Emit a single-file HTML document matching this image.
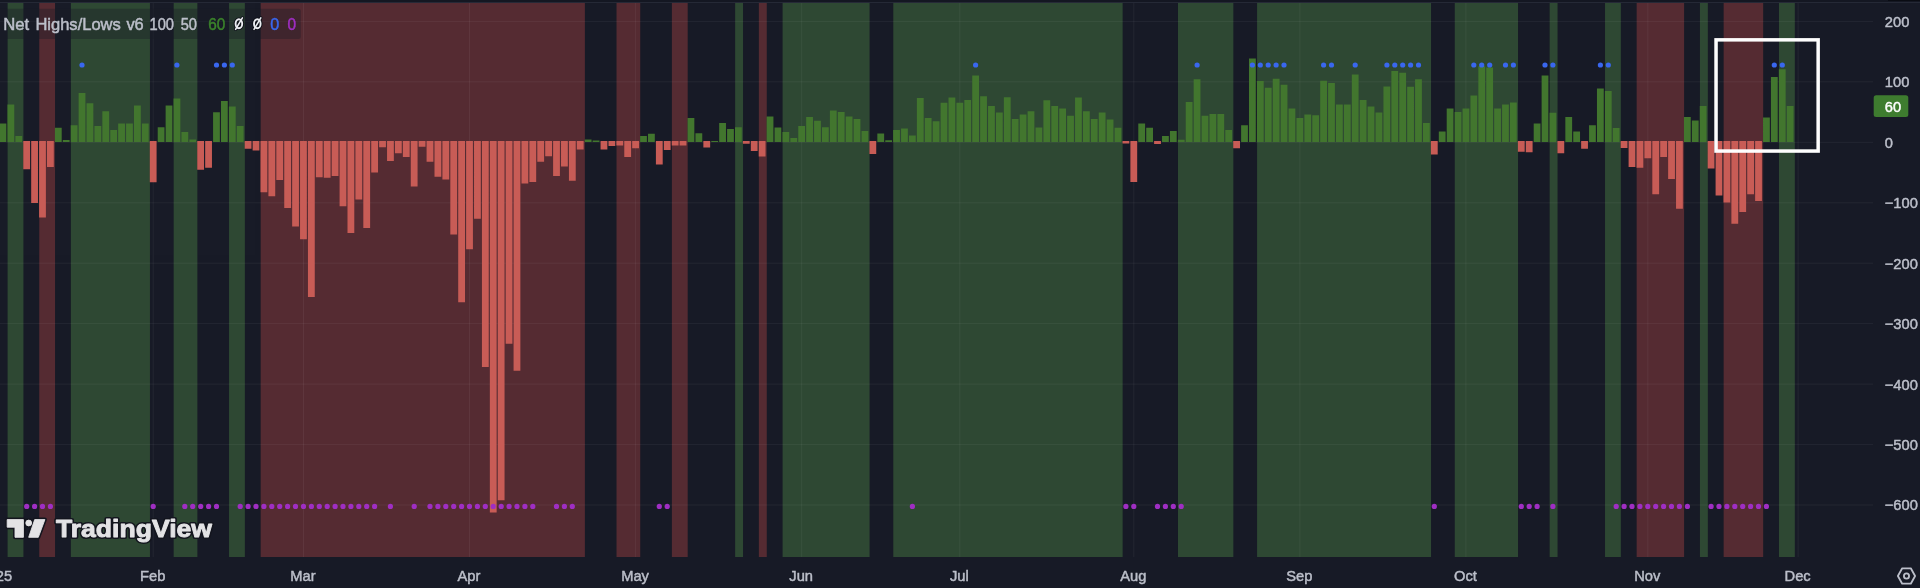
<!DOCTYPE html>
<html><head><meta charset="utf-8"><title>Net Highs/Lows</title>
<style>html,body{margin:0;padding:0;background:#181b27;overflow:hidden}svg{display:block}text{font-family:"Liberation Sans",sans-serif}svg{opacity:.999;will-change:transform}</style></head>
<body>
<svg width="1920" height="588" viewBox="0 0 1920 588">
<rect width="1920" height="588" fill="#181b27"/>
<rect x="7.60" y="2.8" width="15.82" height="554.2" fill="#2f4934"/>
<rect x="39.24" y="2.8" width="15.82" height="554.2" fill="#562c33"/>
<rect x="70.87" y="2.8" width="79.08" height="554.2" fill="#2f4934"/>
<rect x="173.67" y="2.8" width="23.72" height="554.2" fill="#2f4934"/>
<rect x="229.03" y="2.8" width="15.82" height="554.2" fill="#2f4934"/>
<rect x="260.66" y="2.8" width="324.23" height="554.2" fill="#562c33"/>
<rect x="616.52" y="2.8" width="23.72" height="554.2" fill="#562c33"/>
<rect x="671.88" y="2.8" width="15.82" height="554.2" fill="#562c33"/>
<rect x="735.14" y="2.8" width="7.91" height="554.2" fill="#2f4934"/>
<rect x="758.86" y="2.8" width="7.91" height="554.2" fill="#562c33"/>
<rect x="782.59" y="2.8" width="86.99" height="554.2" fill="#2f4934"/>
<rect x="893.30" y="2.8" width="229.33" height="554.2" fill="#2f4934"/>
<rect x="1177.99" y="2.8" width="55.36" height="554.2" fill="#2f4934"/>
<rect x="1257.07" y="2.8" width="173.98" height="554.2" fill="#2f4934"/>
<rect x="1454.77" y="2.8" width="63.26" height="554.2" fill="#2f4934"/>
<rect x="1549.66" y="2.8" width="7.91" height="554.2" fill="#2f4934"/>
<rect x="1605.02" y="2.8" width="15.82" height="554.2" fill="#2f4934"/>
<rect x="1636.65" y="2.8" width="47.45" height="554.2" fill="#562c33"/>
<rect x="1699.92" y="2.8" width="7.91" height="554.2" fill="#2f4934"/>
<rect x="1723.64" y="2.8" width="39.54" height="554.2" fill="#562c33"/>
<rect x="1779.00" y="2.8" width="15.82" height="554.2" fill="#2f4934"/>
<g stroke="rgba(255,255,255,0.055)" stroke-width="1">
<line x1="0" x2="1873" y1="21.4" y2="21.4"/>
<line x1="0" x2="1873" y1="81.8" y2="81.8"/>
<line x1="0" x2="1873" y1="142.3" y2="142.3"/>
<line x1="0" x2="1873" y1="202.8" y2="202.8"/>
<line x1="0" x2="1873" y1="263.2" y2="263.2"/>
<line x1="0" x2="1873" y1="323.6" y2="323.6"/>
<line x1="0" x2="1873" y1="384.1" y2="384.1"/>
<line x1="0" x2="1873" y1="444.6" y2="444.6"/>
<line x1="0" x2="1873" y1="505.0" y2="505.0"/>
<line x1="153.2" x2="153.2" y1="2.8" y2="557.0"/>
<line x1="303.5" x2="303.5" y1="2.8" y2="557.0"/>
<line x1="469.5" x2="469.5" y1="2.8" y2="557.0"/>
<line x1="635.6" x2="635.6" y1="2.8" y2="557.0"/>
<line x1="801.7" x2="801.7" y1="2.8" y2="557.0"/>
<line x1="959.8" x2="959.8" y1="2.8" y2="557.0"/>
<line x1="1133.8" x2="1133.8" y1="2.8" y2="557.0"/>
<line x1="1299.9" x2="1299.9" y1="2.8" y2="557.0"/>
<line x1="1465.9" x2="1465.9" y1="2.8" y2="557.0"/>
<line x1="1647.8" x2="1647.8" y1="2.8" y2="557.0"/>
<line x1="1798.1" x2="1798.1" y1="2.8" y2="557.0"/>
</g>
<path fill="#43772f" d="M-0.45 141.9h6.8v-18.5h-6.8zM7.46 141.9h6.8v-37.5h-6.8zM15.37 141.9h6.8v-6.0h-6.8zM54.91 141.9h6.8v-14.1h-6.8zM62.81 141.9h6.8v-2.0h-6.8zM70.72 141.9h6.8v-16.6h-6.8zM78.63 141.9h6.8v-49.0h-6.8zM86.54 141.9h6.8v-38.6h-6.8zM94.45 141.9h6.8v-15.8h-6.8zM102.35 141.9h6.8v-30.7h-6.8zM110.26 141.9h6.8v-12.0h-6.8zM118.17 141.9h6.8v-18.5h-6.8zM126.08 141.9h6.8v-18.5h-6.8zM133.99 141.9h6.8v-36.5h-6.8zM141.89 141.9h6.8v-18.5h-6.8zM157.71 141.9h6.8v-14.7h-6.8zM165.62 141.9h6.8v-36.5h-6.8zM173.53 141.9h6.8v-43.3h-6.8zM181.43 141.9h6.8v-10.0h-6.8zM189.34 141.9h6.8v-2.5h-6.8zM213.07 141.9h6.8v-29.7h-6.8zM220.97 141.9h6.8v-40.8h-6.8zM228.88 141.9h6.8v-35.4h-6.8zM236.79 141.9h6.8v-15.8h-6.8zM584.74 141.9h6.8v-2.5h-6.8zM592.65 141.9h6.8v-1.5h-6.8zM640.10 141.9h6.8v-6.0h-6.8zM648.01 141.9h6.8v-8.2h-6.8zM687.55 141.9h6.8v-24.0h-6.8zM695.45 141.9h6.8v-8.7h-6.8zM711.27 141.9h6.8v-1.0h-6.8zM719.18 141.9h6.8v-19.0h-6.8zM727.09 141.9h6.8v-13.0h-6.8zM734.99 141.9h6.8v-14.7h-6.8zM766.63 141.9h6.8v-25.3h-6.8zM774.53 141.9h6.8v-14.4h-6.8zM782.44 141.9h6.8v-10.0h-6.8zM790.35 141.9h6.8v-3.8h-6.8zM798.26 141.9h6.8v-15.8h-6.8zM806.17 141.9h6.8v-25.0h-6.8zM814.07 141.9h6.8v-21.2h-6.8zM821.98 141.9h6.8v-14.7h-6.8zM829.89 141.9h6.8v-31.3h-6.8zM837.80 141.9h6.8v-29.9h-6.8zM845.71 141.9h6.8v-25.3h-6.8zM853.61 141.9h6.8v-22.9h-6.8zM861.52 141.9h6.8v-10.9h-6.8zM877.34 141.9h6.8v-8.4h-6.8zM885.25 141.9h6.8v-1.6h-6.8zM893.15 141.9h6.8v-12.0h-6.8zM901.06 141.9h6.8v-13.3h-6.8zM908.97 141.9h6.8v-6.5h-6.8zM916.88 141.9h6.8v-44.0h-6.8zM924.79 141.9h6.8v-24.0h-6.8zM932.69 141.9h6.8v-20.7h-6.8zM940.60 141.9h6.8v-39.2h-6.8zM948.51 141.9h6.8v-44.4h-6.8zM956.42 141.9h6.8v-39.2h-6.8zM964.33 141.9h6.8v-42.0h-6.8zM972.23 141.9h6.8v-66.4h-6.8zM980.14 141.9h6.8v-45.7h-6.8zM988.05 141.9h6.8v-36.0h-6.8zM995.96 141.9h6.8v-29.4h-6.8zM1003.87 141.9h6.8v-44.6h-6.8zM1011.77 141.9h6.8v-22.9h-6.8zM1019.68 141.9h6.8v-27.5h-6.8zM1027.59 141.9h6.8v-30.7h-6.8zM1035.50 141.9h6.8v-14.4h-6.8zM1043.41 141.9h6.8v-41.6h-6.8zM1051.31 141.9h6.8v-36.0h-6.8zM1059.22 141.9h6.8v-33.5h-6.8zM1067.13 141.9h6.8v-26.1h-6.8zM1075.04 141.9h6.8v-44.4h-6.8zM1082.95 141.9h6.8v-30.7h-6.8zM1090.85 141.9h6.8v-22.9h-6.8zM1098.76 141.9h6.8v-29.4h-6.8zM1106.67 141.9h6.8v-22.3h-6.8zM1114.58 141.9h6.8v-14.1h-6.8zM1138.30 141.9h6.8v-18.5h-6.8zM1146.21 141.9h6.8v-14.1h-6.8zM1162.03 141.9h6.8v-6.0h-6.8zM1169.93 141.9h6.8v-10.9h-6.8zM1177.84 141.9h6.8v-2.2h-6.8zM1185.75 141.9h6.8v-40.0h-6.8zM1193.66 141.9h6.8v-62.6h-6.8zM1201.57 141.9h6.8v-26.1h-6.8zM1209.47 141.9h6.8v-28.0h-6.8zM1217.38 141.9h6.8v-28.0h-6.8zM1225.29 141.9h6.8v-12.0h-6.8zM1241.11 141.9h6.8v-16.6h-6.8zM1249.01 141.9h6.8v-83.3h-6.8zM1256.92 141.9h6.8v-61.0h-6.8zM1264.83 141.9h6.8v-54.1h-6.8zM1272.74 141.9h6.8v-63.1h-6.8zM1280.65 141.9h6.8v-57.1h-6.8zM1288.55 141.9h6.8v-33.5h-6.8zM1296.46 141.9h6.8v-24.0h-6.8zM1304.37 141.9h6.8v-27.5h-6.8zM1312.28 141.9h6.8v-26.7h-6.8zM1320.19 141.9h6.8v-61.2h-6.8zM1328.09 141.9h6.8v-58.8h-6.8zM1336.00 141.9h6.8v-37.3h-6.8zM1343.91 141.9h6.8v-37.3h-6.8zM1351.82 141.9h6.8v-67.5h-6.8zM1359.73 141.9h6.8v-41.9h-6.8zM1367.63 141.9h6.8v-35.4h-6.8zM1375.54 141.9h6.8v-29.4h-6.8zM1383.45 141.9h6.8v-55.5h-6.8zM1391.36 141.9h6.8v-71.0h-6.8zM1399.27 141.9h6.8v-69.1h-6.8zM1407.17 141.9h6.8v-55.2h-6.8zM1415.08 141.9h6.8v-62.6h-6.8zM1422.99 141.9h6.8v-19.0h-6.8zM1438.81 141.9h6.8v-10.3h-6.8zM1446.71 141.9h6.8v-33.5h-6.8zM1454.62 141.9h6.8v-29.9h-6.8zM1462.53 141.9h6.8v-33.5h-6.8zM1470.44 141.9h6.8v-46.3h-6.8zM1478.35 141.9h6.8v-75.6h-6.8zM1486.25 141.9h6.8v-74.3h-6.8zM1494.16 141.9h6.8v-33.5h-6.8zM1502.07 141.9h6.8v-37.3h-6.8zM1509.98 141.9h6.8v-39.5h-6.8zM1533.70 141.9h6.8v-18.5h-6.8zM1541.61 141.9h6.8v-66.4h-6.8zM1549.52 141.9h6.8v-29.1h-6.8zM1565.33 141.9h6.8v-25.0h-6.8zM1573.24 141.9h6.8v-10.3h-6.8zM1589.06 141.9h6.8v-16.6h-6.8zM1596.97 141.9h6.8v-53.3h-6.8zM1604.87 141.9h6.8v-50.9h-6.8zM1612.78 141.9h6.8v-13.9h-6.8zM1683.95 141.9h6.8v-25.0h-6.8zM1691.86 141.9h6.8v-21.5h-6.8zM1699.77 141.9h6.8v-35.9h-6.8zM1763.03 141.9h6.8v-24.3h-6.8zM1770.94 141.9h6.8v-65.0h-6.8zM1778.85 141.9h6.8v-72.6h-6.8zM1786.76 141.9h6.8v-36.0h-6.8z"/>
<path fill="#c95d57" d="M23.27 141.1h6.8v28.1h-6.8zM31.18 141.1h6.8v62.0h-6.8zM39.09 141.1h6.8v76.4h-6.8zM47.00 141.1h6.8v26.0h-6.8zM149.80 141.1h6.8v41.1h-6.8zM197.25 141.1h6.8v28.6h-6.8zM205.16 141.1h6.8v26.7h-6.8zM244.70 141.1h6.8v7.6h-6.8zM252.61 141.1h6.8v9.5h-6.8zM260.51 141.1h6.8v51.1h-6.8zM268.42 141.1h6.8v55.2h-6.8zM276.33 141.1h6.8v38.9h-6.8zM284.24 141.1h6.8v66.8h-6.8zM292.15 141.1h6.8v85.3h-6.8zM300.05 141.1h6.8v98.1h-6.8zM307.96 141.1h6.8v155.8h-6.8zM315.87 141.1h6.8v36.2h-6.8zM323.78 141.1h6.8v36.7h-6.8zM331.69 141.1h6.8v34.8h-6.8zM339.59 141.1h6.8v65.2h-6.8zM347.50 141.1h6.8v91.8h-6.8zM355.41 141.1h6.8v58.3h-6.8zM363.32 141.1h6.8v87.0h-6.8zM371.23 141.1h6.8v31.3h-6.8zM379.13 141.1h6.8v6.2h-6.8zM387.04 141.1h6.8v19.8h-6.8zM394.95 141.1h6.8v12.2h-6.8zM402.86 141.1h6.8v16.0h-6.8zM410.77 141.1h6.8v45.3h-6.8zM418.67 141.1h6.8v5.6h-6.8zM426.58 141.1h6.8v20.6h-6.8zM434.49 141.1h6.8v35.7h-6.8zM442.40 141.1h6.8v38.4h-6.8zM450.31 141.1h6.8v93.5h-6.8zM458.21 141.1h6.8v161.1h-6.8zM466.12 141.1h6.8v108.2h-6.8zM474.03 141.1h6.8v77.7h-6.8zM481.94 141.1h6.8v225.9h-6.8zM489.85 141.1h6.8v371.3h-6.8zM497.75 141.1h6.8v359.1h-6.8zM505.66 141.1h6.8v202.7h-6.8zM513.57 141.1h6.8v229.7h-6.8zM521.48 141.1h6.8v42.3h-6.8zM529.39 141.1h6.8v41.0h-6.8zM537.29 141.1h6.8v20.6h-6.8zM545.20 141.1h6.8v15.1h-6.8zM553.11 141.1h6.8v35.0h-6.8zM561.02 141.1h6.8v25.5h-6.8zM568.93 141.1h6.8v39.6h-6.8zM576.83 141.1h6.8v8.3h-6.8zM600.56 141.1h6.8v8.3h-6.8zM608.47 141.1h6.8v4.8h-6.8zM616.37 141.1h6.8v4.3h-6.8zM624.28 141.1h6.8v16.0h-6.8zM632.19 141.1h6.8v7.1h-6.8zM655.91 141.1h6.8v23.4h-6.8zM663.82 141.1h6.8v9.0h-6.8zM671.73 141.1h6.8v4.3h-6.8zM679.64 141.1h6.8v4.3h-6.8zM703.36 141.1h6.8v6.5h-6.8zM742.90 141.1h6.8v2.7h-6.8zM750.81 141.1h6.8v9.8h-6.8zM758.72 141.1h6.8v15.5h-6.8zM869.43 141.1h6.8v13.0h-6.8zM1122.49 141.1h6.8v2.4h-6.8zM1130.39 141.1h6.8v40.8h-6.8zM1154.12 141.1h6.8v3.0h-6.8zM1233.20 141.1h6.8v7.1h-6.8zM1430.90 141.1h6.8v13.3h-6.8zM1517.89 141.1h6.8v10.6h-6.8zM1525.79 141.1h6.8v11.1h-6.8zM1557.43 141.1h6.8v12.2h-6.8zM1581.15 141.1h6.8v7.6h-6.8zM1620.69 141.1h6.8v6.9h-6.8zM1628.60 141.1h6.8v25.9h-6.8zM1636.51 141.1h6.8v26.6h-6.8zM1644.41 141.1h6.8v17.2h-6.8zM1652.32 141.1h6.8v53.2h-6.8zM1660.23 141.1h6.8v15.9h-6.8zM1668.14 141.1h6.8v37.8h-6.8zM1676.05 141.1h6.8v67.6h-6.8zM1707.68 141.1h6.8v27.4h-6.8zM1715.59 141.1h6.8v54.5h-6.8zM1723.49 141.1h6.8v61.3h-6.8zM1731.40 141.1h6.8v82.6h-6.8zM1739.31 141.1h6.8v70.8h-6.8zM1747.22 141.1h6.8v53.2h-6.8zM1755.13 141.1h6.8v59.8h-6.8z"/>
<g fill="#3a68f0"><circle cx="82.0" cy="65" r="2.6"/><circle cx="176.9" cy="65" r="2.6"/><circle cx="216.5" cy="65" r="2.6"/><circle cx="224.4" cy="65" r="2.6"/><circle cx="232.3" cy="65" r="2.6"/><circle cx="975.6" cy="65" r="2.6"/><circle cx="1197.1" cy="65" r="2.6"/><circle cx="1252.4" cy="65" r="2.6"/><circle cx="1260.3" cy="65" r="2.6"/><circle cx="1268.2" cy="65" r="2.6"/><circle cx="1276.1" cy="65" r="2.6"/><circle cx="1284.0" cy="65" r="2.6"/><circle cx="1323.6" cy="65" r="2.6"/><circle cx="1331.5" cy="65" r="2.6"/><circle cx="1355.2" cy="65" r="2.6"/><circle cx="1386.9" cy="65" r="2.6"/><circle cx="1394.8" cy="65" r="2.6"/><circle cx="1402.7" cy="65" r="2.6"/><circle cx="1410.6" cy="65" r="2.6"/><circle cx="1418.5" cy="65" r="2.6"/><circle cx="1473.8" cy="65" r="2.6"/><circle cx="1481.7" cy="65" r="2.6"/><circle cx="1489.7" cy="65" r="2.6"/><circle cx="1505.5" cy="65" r="2.6"/><circle cx="1513.4" cy="65" r="2.6"/><circle cx="1545.0" cy="65" r="2.6"/><circle cx="1552.9" cy="65" r="2.6"/><circle cx="1600.4" cy="65" r="2.6"/><circle cx="1608.3" cy="65" r="2.6"/><circle cx="1774.3" cy="65" r="2.6"/><circle cx="1782.3" cy="65" r="2.6"/></g>
<g fill="#a02fc4"><circle cx="26.7" cy="506.4" r="2.6"/><circle cx="34.6" cy="506.4" r="2.6"/><circle cx="42.5" cy="506.4" r="2.6"/><circle cx="50.4" cy="506.4" r="2.6"/><circle cx="153.2" cy="506.4" r="2.6"/><circle cx="184.8" cy="506.4" r="2.6"/><circle cx="192.7" cy="506.4" r="2.6"/><circle cx="200.7" cy="506.4" r="2.6"/><circle cx="208.6" cy="506.4" r="2.6"/><circle cx="216.5" cy="506.4" r="2.6"/><circle cx="240.2" cy="506.4" r="2.6"/><circle cx="248.1" cy="506.4" r="2.6"/><circle cx="256.0" cy="506.4" r="2.6"/><circle cx="263.9" cy="506.4" r="2.6"/><circle cx="271.8" cy="506.4" r="2.6"/><circle cx="279.7" cy="506.4" r="2.6"/><circle cx="287.6" cy="506.4" r="2.6"/><circle cx="295.5" cy="506.4" r="2.6"/><circle cx="303.5" cy="506.4" r="2.6"/><circle cx="311.4" cy="506.4" r="2.6"/><circle cx="319.3" cy="506.4" r="2.6"/><circle cx="327.2" cy="506.4" r="2.6"/><circle cx="335.1" cy="506.4" r="2.6"/><circle cx="343.0" cy="506.4" r="2.6"/><circle cx="350.9" cy="506.4" r="2.6"/><circle cx="358.8" cy="506.4" r="2.6"/><circle cx="366.7" cy="506.4" r="2.6"/><circle cx="374.6" cy="506.4" r="2.6"/><circle cx="390.4" cy="506.4" r="2.6"/><circle cx="414.2" cy="506.4" r="2.6"/><circle cx="430.0" cy="506.4" r="2.6"/><circle cx="437.9" cy="506.4" r="2.6"/><circle cx="445.8" cy="506.4" r="2.6"/><circle cx="453.7" cy="506.4" r="2.6"/><circle cx="461.6" cy="506.4" r="2.6"/><circle cx="469.5" cy="506.4" r="2.6"/><circle cx="477.4" cy="506.4" r="2.6"/><circle cx="485.3" cy="506.4" r="2.6"/><circle cx="493.2" cy="506.4" r="2.6"/><circle cx="501.2" cy="506.4" r="2.6"/><circle cx="509.1" cy="506.4" r="2.6"/><circle cx="517.0" cy="506.4" r="2.6"/><circle cx="524.9" cy="506.4" r="2.6"/><circle cx="532.8" cy="506.4" r="2.6"/><circle cx="556.5" cy="506.4" r="2.6"/><circle cx="564.4" cy="506.4" r="2.6"/><circle cx="572.3" cy="506.4" r="2.6"/><circle cx="659.3" cy="506.4" r="2.6"/><circle cx="667.2" cy="506.4" r="2.6"/><circle cx="912.4" cy="506.4" r="2.6"/><circle cx="1125.9" cy="506.4" r="2.6"/><circle cx="1133.8" cy="506.4" r="2.6"/><circle cx="1157.5" cy="506.4" r="2.6"/><circle cx="1165.4" cy="506.4" r="2.6"/><circle cx="1173.3" cy="506.4" r="2.6"/><circle cx="1181.2" cy="506.4" r="2.6"/><circle cx="1434.3" cy="506.4" r="2.6"/><circle cx="1521.3" cy="506.4" r="2.6"/><circle cx="1529.2" cy="506.4" r="2.6"/><circle cx="1537.1" cy="506.4" r="2.6"/><circle cx="1552.9" cy="506.4" r="2.6"/><circle cx="1616.2" cy="506.4" r="2.6"/><circle cx="1624.1" cy="506.4" r="2.6"/><circle cx="1632.0" cy="506.4" r="2.6"/><circle cx="1639.9" cy="506.4" r="2.6"/><circle cx="1647.8" cy="506.4" r="2.6"/><circle cx="1655.7" cy="506.4" r="2.6"/><circle cx="1663.6" cy="506.4" r="2.6"/><circle cx="1671.5" cy="506.4" r="2.6"/><circle cx="1679.4" cy="506.4" r="2.6"/><circle cx="1687.4" cy="506.4" r="2.6"/><circle cx="1711.1" cy="506.4" r="2.6"/><circle cx="1719.0" cy="506.4" r="2.6"/><circle cx="1726.9" cy="506.4" r="2.6"/><circle cx="1734.8" cy="506.4" r="2.6"/><circle cx="1742.7" cy="506.4" r="2.6"/><circle cx="1750.6" cy="506.4" r="2.6"/><circle cx="1758.5" cy="506.4" r="2.6"/><circle cx="1766.4" cy="506.4" r="2.6"/></g>
<rect x="0" y="0" width="1920" height="2.2" fill="#151823"/>
<rect x="0" y="2.1" width="1920" height="0.8" fill="#2b2f3d"/>
<rect x="1888" y="0" width="32" height="1" fill="#0b0d14"/>
<rect x="1716.05" y="39.85" width="102.1" height="111.2" fill="none" stroke="#fff" stroke-width="3.5"/>
<rect x="-3" y="8.8" width="303.8" height="30.3" rx="2.5" fill="#181b27" fill-opacity="0.36"/>
<text x="3.3" y="29.9" font-size="17.3" textLength="25.9" lengthAdjust="spacingAndGlyphs" fill="#bdc0cb" stroke="#bdc0cb" stroke-width="0.5">Net</text>
<text x="35.4" y="29.9" font-size="17.3" textLength="85.4" lengthAdjust="spacingAndGlyphs" fill="#bdc0cb" stroke="#bdc0cb" stroke-width="0.5">Highs/Lows</text>
<text x="126.4" y="29.9" font-size="17.3" textLength="17.3" lengthAdjust="spacingAndGlyphs" fill="#bdc0cb" stroke="#bdc0cb" stroke-width="0.5">v6</text>
<text x="149.5" y="29.9" font-size="17.3" textLength="24.5" lengthAdjust="spacingAndGlyphs" fill="#bdc0cb" stroke="#bdc0cb" stroke-width="0.5">100</text>
<text x="180.7" y="29.9" font-size="17.3" textLength="16.3" lengthAdjust="spacingAndGlyphs" fill="#bdc0cb" stroke="#bdc0cb" stroke-width="0.5">50</text>
<text x="208.3" y="29.9" font-size="17.3" textLength="17.1" lengthAdjust="spacingAndGlyphs" fill="#3c842c" stroke="#3c842c" stroke-width="0.5">60</text>
<g fill="none" stroke-linecap="round"><ellipse cx="238.9" cy="23.7" rx="3.4" ry="4.5" stroke="#0e1018" stroke-width="3.6"/><line x1="235.6" y1="29.3" x2="242.4" y2="17.9" stroke="#0e1018" stroke-width="3.2"/><ellipse cx="238.9" cy="23.7" rx="3.3" ry="4.5" stroke="#eceef2" stroke-width="1.9"/><line x1="235.6" y1="29.3" x2="242.4" y2="17.9" stroke="#eceef2" stroke-width="1.6"/></g>
<g fill="none" stroke-linecap="round"><ellipse cx="257.3" cy="23.7" rx="3.4" ry="4.5" stroke="#0e1018" stroke-width="3.6"/><line x1="254.0" y1="29.3" x2="260.8" y2="17.9" stroke="#0e1018" stroke-width="3.2"/><ellipse cx="257.3" cy="23.7" rx="3.3" ry="4.5" stroke="#eceef2" stroke-width="1.9"/><line x1="254.0" y1="29.3" x2="260.8" y2="17.9" stroke="#eceef2" stroke-width="1.6"/></g>
<text x="270.2" y="29.9" font-size="17.3" textLength="9.0" lengthAdjust="spacingAndGlyphs" fill="#3a68f0" stroke="#3a68f0" stroke-width="0.5">0</text>
<text x="287.5" y="29.9" font-size="17.3" textLength="8.6" lengthAdjust="spacingAndGlyphs" fill="#a02fc4" stroke="#a02fc4" stroke-width="0.5">0</text>
<text x="1884.8" y="26.8" font-size="14.7" fill="#bdc0cb" stroke="#bdc0cb" stroke-width="0.45">200</text>
<text x="1884.8" y="87.2" font-size="14.7" fill="#bdc0cb" stroke="#bdc0cb" stroke-width="0.45">100</text>
<text x="1884.8" y="147.7" font-size="14.7" fill="#bdc0cb" stroke="#bdc0cb" stroke-width="0.45">0</text>
<text x="1884.8" y="208.2" font-size="14.7" fill="#bdc0cb" stroke="#bdc0cb" stroke-width="0.45">−100</text>
<text x="1884.8" y="268.6" font-size="14.7" fill="#bdc0cb" stroke="#bdc0cb" stroke-width="0.45">−200</text>
<text x="1884.8" y="329.0" font-size="14.7" fill="#bdc0cb" stroke="#bdc0cb" stroke-width="0.45">−300</text>
<text x="1884.8" y="389.5" font-size="14.7" fill="#bdc0cb" stroke="#bdc0cb" stroke-width="0.45">−400</text>
<text x="1884.8" y="449.9" font-size="14.7" fill="#bdc0cb" stroke="#bdc0cb" stroke-width="0.45">−500</text>
<text x="1884.8" y="510.4" font-size="14.7" fill="#bdc0cb" stroke="#bdc0cb" stroke-width="0.45">−600</text>
<rect x="1873.7" y="95.3" width="34.6" height="21.7" rx="2.5" fill="#3f7d30"/>
<text x="1884.8" y="111.5" font-size="14.7" fill="#fff" stroke="#fff" stroke-width="0.45">60</text>
<text x="-4.2" y="581" font-size="14.7" fill="#bdc0cb" stroke="#bdc0cb" stroke-width="0.45" text-anchor="middle">2025</text>
<text x="152.7" y="581" font-size="14.7" fill="#bdc0cb" stroke="#bdc0cb" stroke-width="0.45" text-anchor="middle">Feb</text>
<text x="303.0" y="581" font-size="14.7" fill="#bdc0cb" stroke="#bdc0cb" stroke-width="0.45" text-anchor="middle">Mar</text>
<text x="469.0" y="581" font-size="14.7" fill="#bdc0cb" stroke="#bdc0cb" stroke-width="0.45" text-anchor="middle">Apr</text>
<text x="635.1" y="581" font-size="14.7" fill="#bdc0cb" stroke="#bdc0cb" stroke-width="0.45" text-anchor="middle">May</text>
<text x="801.2" y="581" font-size="14.7" fill="#bdc0cb" stroke="#bdc0cb" stroke-width="0.45" text-anchor="middle">Jun</text>
<text x="959.3" y="581" font-size="14.7" fill="#bdc0cb" stroke="#bdc0cb" stroke-width="0.45" text-anchor="middle">Jul</text>
<text x="1133.3" y="581" font-size="14.7" fill="#bdc0cb" stroke="#bdc0cb" stroke-width="0.45" text-anchor="middle">Aug</text>
<text x="1299.4" y="581" font-size="14.7" fill="#bdc0cb" stroke="#bdc0cb" stroke-width="0.45" text-anchor="middle">Sep</text>
<text x="1465.4" y="581" font-size="14.7" fill="#bdc0cb" stroke="#bdc0cb" stroke-width="0.45" text-anchor="middle">Oct</text>
<text x="1647.3" y="581" font-size="14.7" fill="#bdc0cb" stroke="#bdc0cb" stroke-width="0.45" text-anchor="middle">Nov</text>
<text x="1797.6" y="581" font-size="14.7" fill="#bdc0cb" stroke="#bdc0cb" stroke-width="0.45" text-anchor="middle">Dec</text>
<g fill="none" stroke="#bdc0cb" stroke-width="1.8"><path d="M1902.2 568.3h8.6l4.3 7.7-4.3 7.7h-8.6l-4.3-7.7z" stroke-linejoin="round"/><circle cx="1906.5" cy="576" r="2.6"/></g>
<g fill="#14161f" stroke="#14161f" stroke-width="4" stroke-linejoin="round"><path d="M7.2 519.6H23.4V537.3H15V527.2H7.2z"/><circle cx="28.7" cy="523" r="2.9"/><path d="M34.7 519.6H44.9L38.3 537.3H28.7z"/><text x="56" y="537.3" font-size="24.7" font-weight="bold" textLength="156" lengthAdjust="spacingAndGlyphs">TradingView</text></g>
<g fill="#e4e4e6" stroke="#e4e4e6" stroke-width="0.9" stroke-linejoin="round"><path d="M7.2 519.6H23.4V537.3H15V527.2H7.2z"/><circle cx="28.7" cy="523" r="2.9"/><path d="M34.7 519.6H44.9L38.3 537.3H28.7z"/><text x="56" y="537.3" font-size="24.7" font-weight="bold" textLength="156" lengthAdjust="spacingAndGlyphs">TradingView</text></g>
</svg></body></html>
